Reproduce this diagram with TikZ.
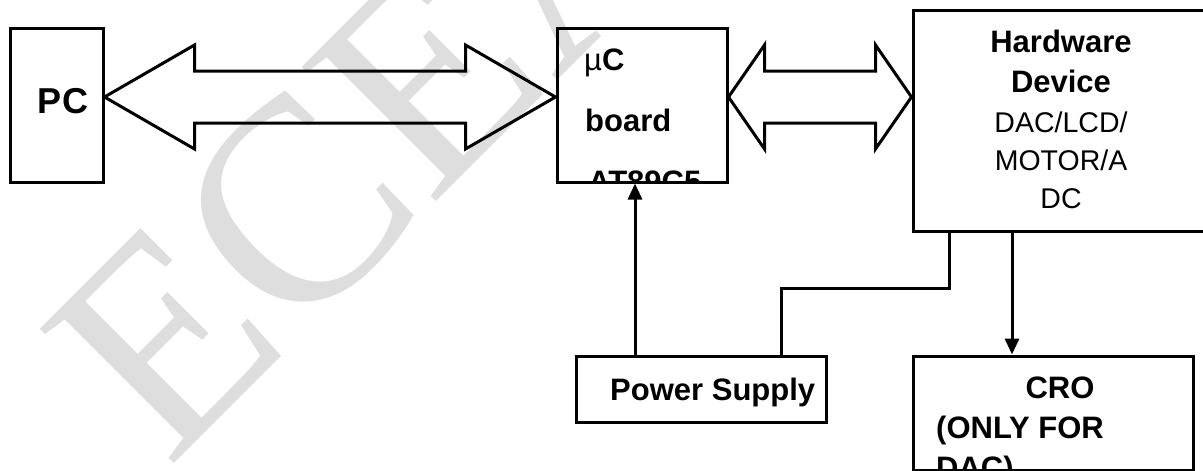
\documentclass[tikz,border=0pt]{standalone}
\usepackage{fontspec}
\setmainfont{Liberation Sans}
\newfontfamily\wmserif{Liberation Serif}
\usetikzlibrary{arrows.meta,calc}

\definecolor{wmgray}{RGB}{222,222,222}
\newcommand\boldlbl{\fontsize{31}{39}\selectfont\bfseries}
\newcommand\plainlbl{\fontsize{28.5}{39}\selectfont\mdseries}

\tikzset{
	box/.style={draw, line width=3pt, inner sep=0pt},
	bus/.style={draw, line width=3pt, line join=miter},
	wire/.style={line width=3pt},
	sig/.style={line width=3pt, -{Triangle[length=16pt,width=14pt]}},
	lbl/.style={font=\boldlbl, inner sep=0pt, anchor=base west},
}

\begin{document}
\begin{tikzpicture}[
		x=1pt, y=-1pt,   % pixel grid, y pointing down
		>=Latex
		]
		\useasboundingbox (0,0) rectangle (1203,471);
		
		% ---------- Parameters ----------
		\def\busy{97}     % height of both bus arrows
		\def\hw{52}       % half width of an arrow head
		\def\sw{26}       % half width of an arrow shaft
		
		% ---------- Watermark ----------
		\begin{scope}
			\clip (0,0) rectangle (1203,471);
			\node[wmgray, rotate=45, anchor=base west, inner sep=0pt,
			font=\wmserif\fontsize{290}{290}\selectfont] (wmark) at (168,470) {ECEA};
		\end{scope}
		
		% ---------- Boxes ----------
		\node[box, minimum width=93, minimum height=154] (pc) at (56.5,105) {};
		\node[box, minimum width=170, minimum height=154] (mcu) at (642,105) {};
		\node[box, minimum width=297, minimum height=221] (hw) at (1061.5,120.5) {};
		\node[box, minimum width=250, minimum height=66] (pwr) at (701,389) {};
		\node[box, minimum width=280, minimum height=114] (cro) at (1053,413) {};
		
		% ---------- Box texts ----------
		\node[lbl, anchor=base, font=\fontsize{36}{40}\selectfont\bfseries] (pcT) at (63,113) {PC};
		
		\begin{scope}
			\clip (mcu.south west) rectangle (mcu.north east);
			\node[lbl] (mcuA) at (584,70) {{\mdseries µ}C};
			\node[lbl] (mcuB) at (585,131) {board};
			\node[lbl] (mcuC) at (588,192) {AT89C5};
		\end{scope}
		
		\node[lbl, anchor=base] (hwA) at (1061,52) {Hardware};
		\node[lbl, anchor=base] (hwB) at (1061,92) {Device};
		\node[lbl, anchor=base, font=\plainlbl] (hwC) at (1061,132) {DAC/LCD/};
		\node[lbl, anchor=base, font=\plainlbl] (hwD) at (1061,170) {MOTOR/A};
		\node[lbl, anchor=base, font=\plainlbl] (hwE) at (1061,208) {DC};
		
		\node[lbl] (pwrT) at (610,400) {Power Supply};
		
		\begin{scope}
			\clip (cro.south west) rectangle (cro.north east);
			\node[lbl, anchor=base] (croA) at (1060,398) {CRO};
			\node[lbl] (croB) at (936,438) {(ONLY FOR};
			\node[lbl] (croC) at (936,478) {DAC)};
		\end{scope}
		
		% ---------- Bus arrows ----------
		\coordinate (pcP) at (pc.east |- 0,\busy);
		\coordinate (mcuP) at (mcu.west |- 0,\busy);
		\coordinate (mcuQ) at (mcu.east |- 0,\busy);
		\coordinate (hwP) at (hw.west |- 0,\busy);
		
		% PC <-> board
		\def\hl{90}
		\draw[bus] (pcP) -- ++(\hl,-\hw) -- ++(0,\hw-\sw) -- ($(mcuP)+(-\hl,-\sw)$)
		-- ++(0,\sw-\hw) -- (mcuP) -- ++(-\hl,\hw) -- ++(0,\sw-\hw)
		-- ($(pcP)+(\hl,\sw)$) -- ++(0,\hw-\sw) -- cycle;
		
		% board <-> hardware
		\def\hl{36}
		\draw[bus] (mcuQ) -- ++(\hl,-\hw) -- ++(0,\hw-\sw) -- ($(hwP)+(-\hl,-\sw)$)
		-- ++(0,\sw-\hw) -- (hwP) -- ++(-\hl,\hw) -- ++(0,\sw-\hw)
		-- ($(mcuQ)+(\hl,\sw)$) -- ++(0,\hw-\sw) -- cycle;
		
		% ---------- Supply and signal lines ----------
		\draw[sig] (pwr.north -| 635,0) -- (mcu.south -| 635,0);
		\draw[wire] (pwr.north -| 781,0) -- (781,288) -| (hw.south -| 949,0);
		\draw[sig] (hw.south -| 1012,0) -- (cro.north -| 1012,0);
		
	\end{tikzpicture}
\end{document}
